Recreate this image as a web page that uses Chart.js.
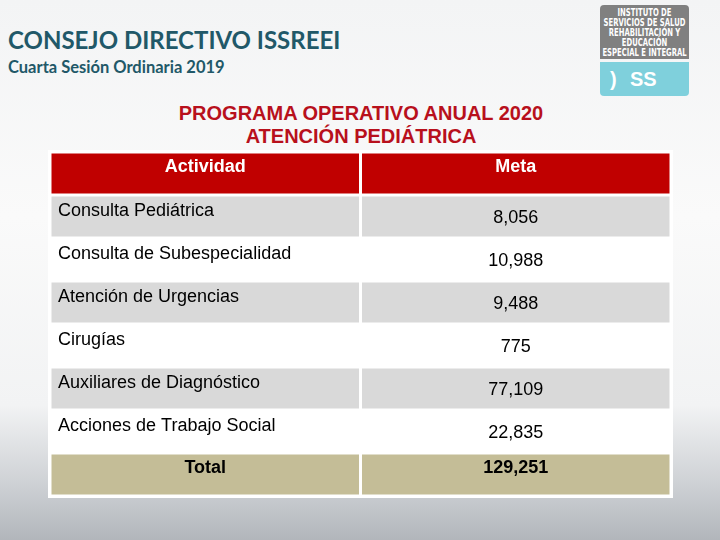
<!DOCTYPE html>
<html>
<head>
<meta charset="utf-8">
<script src="https://cdn.jsdelivr.net/npm/chart.js@4/dist/chart.umd.min.js"></script>
<style>
  html, body { margin: 0; padding: 0; }
  body {
    width: 720px; height: 540px; position: relative; overflow: hidden;
    background: linear-gradient(180deg, #f3f4f5 0%, #fafafa 40%, #f2f3f4 75%, #cdd0d4 90%, #b2b6bb 100%);
    font-family: "Liberation Sans", Arial, sans-serif;
  }
  #t1 { position: absolute; left: 8px; top: 25px; font: bold 24px Lato, "Open Sans", sans-serif; color: #215868; }
  #t2 { position: absolute; left: 8px; top: 57px; font: bold 16.5px Lato, "Open Sans", sans-serif; color: #215868; }
  #t3 { position: absolute; left: 0; width: 722px; top: 102px; text-align: center; font: bold 20px "Liberation Sans", Arial, sans-serif; color: #b8101c; line-height: 23px; }
  #logo1 { position: absolute; left: 600px; top: 5px; width: 89px; height: 54px; background: #808080; border-radius: 4px 4px 0 0; overflow: hidden; }
  #logo1 div { position: absolute; left: 0; top: 3px; width: 130px; transform: scaleX(0.685); transform-origin: 0 0;
    color: #fff; font: bold 10px "DejaVu Sans", sans-serif; text-align: center; line-height: 10px; white-space: nowrap; }
  #logo2 { position: absolute; left: 600px; top: 62px; width: 89px; height: 34px; background: #7fd0dc; border-radius: 0 0 4px 4px;
    color: #fff; font: bold 20px "Liberation Sans", sans-serif; line-height: 34px; }
  #logo2 span { position: absolute; left: 30px; }
  #logo2 b { position: absolute; left: 10px; font-weight: bold; }
  #tbl { position: absolute; left: 48px; top: 150px; width: 625px; height: 348px; background: #fff; }
  #c { position: absolute; left: 50px; top: 152px; }
</style>
</head>
<body>
<div id="t1">CONSEJO DIRECTIVO ISSREEI</div>
<div id="t2">Cuarta Sesión Ordinaria 2019</div>
<div id="t3">PROGRAMA OPERATIVO ANUAL 2020<br>ATENCIÓN PEDIÁTRICA</div>
<div id="logo1"><div>INSTITUTO DE<br>SERVICIOS DE SALUD<br>REHABILITACIÓN Y<br>EDUCACIÓN<br>ESPECIAL E INTEGRAL</div></div>
<div id="logo2"><b>)</b><span>SS</span></div>
<div id="tbl"></div>
<canvas id="c" width="621" height="344"></canvas>
<script>
const headers = ['Actividad', 'Meta'];
const actividades = ['Consulta Pediátrica', 'Consulta de Subespecialidad', 'Atención de Urgencias', 'Cirugías', 'Auxiliares de Diagnóstico', 'Acciones de Trabajo Social'];
const metas = [8056, 10988, 9488, 775, 77109, 22835];
const totalLabel = 'Total';
const total = 129251;

const rows = [headers[0], ...actividades, totalLabel];
const rowColors = ['#c00000', '#d9d9d9', '#ffffff', '#d9d9d9', '#ffffff', '#d9d9d9', '#ffffff', '#c4bd97'];

const fmt = (v) => v.toLocaleString('en-US');

const cellText = {
  id: 'cellText',
  afterDatasetsDraw(chart) {
    const ctx = chart.ctx;
    const left = chart.getDatasetMeta(0).data;
    const right = chart.getDatasetMeta(1).data;
    ctx.save();
    ctx.textBaseline = 'middle';
    rows.forEach((name, i) => {
      const a = left[i], b = right[i];
      const top = a.y - a.height / 2;
      const last = i === rows.length - 1;
      let t2;
      if (i === 0) t2 = headers[1];
      else if (last) t2 = fmt(total);
      else t2 = fmt(metas[i - 1]);
      const bold = i === 0 || last;
      ctx.font = (bold ? 'bold ' : '') + '18px "Liberation Sans", Arial, sans-serif';
      ctx.fillStyle = i === 0 ? '#ffffff' : '#000000';
      if (bold) {
        ctx.textAlign = 'center';
        ctx.fillText(name, (a.base + a.x) / 2, top + 15);
        ctx.fillText(t2, (b.base + b.x) / 2, top + 15);
      } else {
        ctx.textAlign = 'left';
        ctx.fillText(name, a.base + 8, top + 16);
        ctx.textAlign = 'center';
        ctx.fillText(t2, (b.base + b.x) / 2, top + 23);
      }
    });
    ctx.restore();
  }
};

new Chart(document.getElementById('c'), {
  type: 'bar',
  data: {
    labels: rows,
    datasets: [
      { data: rows.map(() => [0, 1.0]), backgroundColor: rowColors, borderColor: '#ffffff', borderWidth: 1.5, borderSkipped: false, inflateAmount: 0, grouped: false },
      { data: rows.map(() => [1.0, 2]), backgroundColor: rowColors, borderColor: '#ffffff', borderWidth: 1.5, borderSkipped: false, inflateAmount: 0, grouped: false }
    ]
  },
  options: {
    indexAxis: 'y',
    responsive: false,
    animation: false,
    layout: { padding: 0 },
    barPercentage: 1,
    categoryPercentage: 1,
    scales: {
      x: { display: false, min: 0, max: 2 },
      y: { display: false }
    },
    plugins: { legend: { display: false }, tooltip: { enabled: false } }
  },
  plugins: [cellText]
});
</script>
</body>
</html>
